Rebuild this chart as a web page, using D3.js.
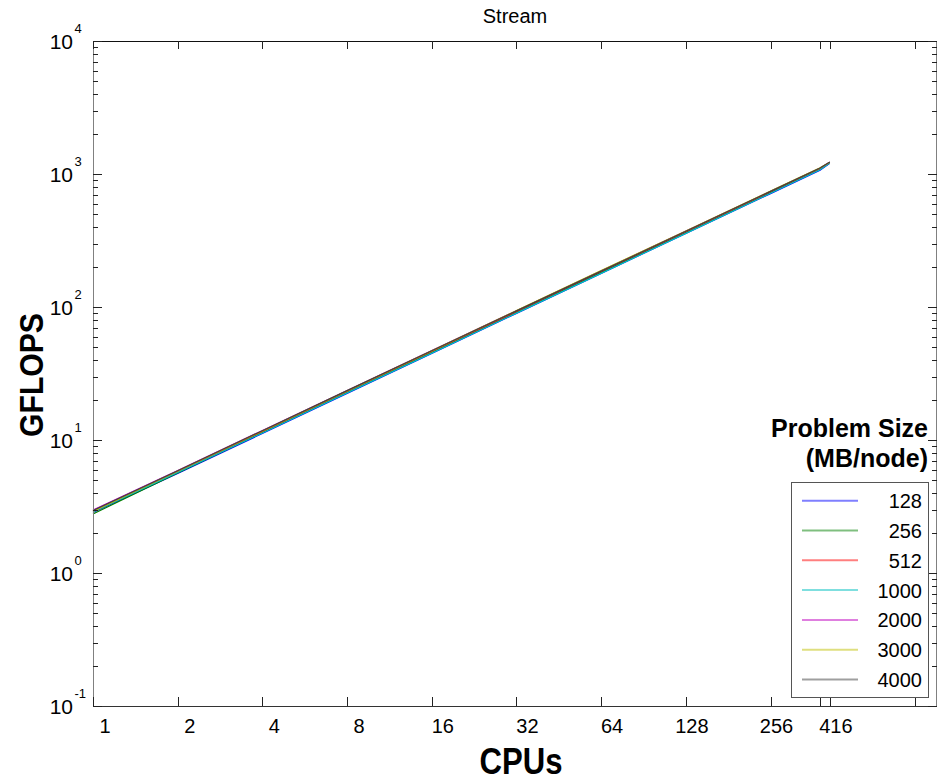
<!DOCTYPE html>
<html>
<head>
<meta charset="utf-8">
<script src="https://cdn.jsdelivr.net/npm/d3@7"></script>
<style>
  body { margin: 0; background: #fff; }
  text { font-family: Arial, "Liberation Sans", sans-serif; }
</style>
</head>
<body>
<div id="chart"></div>
<script>
// Donnees
const cpus = [1, 2, 4, 8, 16, 32, 64, 128, 256, 384, 416];
const tailles = ["128", "256", "512", "1000", "2000", "3000", "4000"];
const couleurs = ["#0000ff", "#008000", "#ff0000", "#00bfbf", "#bf00bf", "#bfbf00", "#404040"];
const gflops_128  = [2.85, 5.6, 11.2, 22.4, 44.8, 89.5, 179, 357, 712, 1068, 1205];
const gflops_256  = [2.78, 5.65, 11.4, 22.8, 45.6, 91.2, 182, 364, 726, 1090, 1215];
const gflops_512  = [2.92, 5.8, 11.6, 23.2, 46.3, 92.5, 185, 368, 735, 1100, 1222];
const gflops_1000 = [2.88, 5.7, 11.3, 22.6, 45.0, 90.0, 179, 358, 716, 1075, 1212];
const gflops_2000 = [2.98, 5.9, 11.8, 23.5, 47.0, 93.8, 187, 372, 742, 1110, 1228];
const gflops_3000 = [2.9, 5.85, 11.7, 23.4, 46.8, 94.0, 188, 373, 744, 1112, 1226];
const gflops_4000 = [2.95, 5.88, 11.75, 23.5, 46.9, 93.5, 186, 371, 740, 1108, 1232];
const series = [gflops_128, gflops_256, gflops_512, gflops_1000, gflops_2000, gflops_3000, gflops_4000];

const ticks_x = [1, 2, 4, 8, 16, 32, 64, 128, 256, 384, 416, 832];
const labels_x = {1: "1", 2: "2", 4: "4", 8: "8", 16: "16", 32: "32", 64: "64", 128: "128", 256: "256", 416: "416"};
const exposants_y = [-1, 0, 1, 2, 3, 4];

const largeur = 938, hauteur = 782;
const [gauche, droite, haut, bas] = [93, 937, 41, 706];

const svg = d3.select("#chart").append("svg")
  .attr("width", largeur)
  .attr("height", hauteur);

const x = d3.scaleLog().base(2).domain([1, 1000]).range([gauche, droite]);
const y = d3.scaleLog().domain([0.1, 1e4]).range([bas, haut]);

// Courbes
const ligne = d3.line().x((d, i) => x(cpus[i])).y(d => y(d));
series.forEach((s, k) => {
  svg.append("path")
    .attr("d", ligne(s))
    .attr("fill", "none")
    .attr("stroke", couleurs[k])
    .attr("stroke-width", 1.2);
});

// Cadre
svg.append("line").attr("x1", gauche).attr("x2", droite).attr("y1", haut + 0.5).attr("y2", haut + 0.5).attr("stroke", "#111");
svg.append("line").attr("x1", gauche).attr("x2", droite).attr("y1", bas + 0.5).attr("y2", bas + 0.5).attr("stroke", "#333");
svg.append("line").attr("x1", gauche + 0.5).attr("x2", gauche + 0.5).attr("y1", haut).attr("y2", bas).attr("stroke", "#808080");
svg.append("line").attr("x1", droite - 0.5).attr("x2", droite - 0.5).attr("y1", haut).attr("y2", bas).attr("stroke", "#808080");

// Graduations x (haut et bas)
ticks_x.forEach(t => {
  let px = Math.round(x(t)) + 0.5;
  svg.append("line").attr("x1", px).attr("x2", px).attr("y1", bas).attr("y2", bas - 9).attr("stroke", "#222");
  svg.append("line").attr("x1", px).attr("x2", px).attr("y1", haut).attr("y2", haut + 8).attr("stroke", "#222");
  if (labels_x[t]) {
    let n = labels_x[t].length;
    let decalage = n == 1 ? 12 : (n == 2 ? 11 : 6);
    svg.append("text")
      .attr("x", x(t) + decalage)
      .attr("y", 733)
      .attr("text-anchor", "middle")
      .attr("font-size", 20)
      .text(labels_x[t]);
  }
});

// Graduations y (gauche et droite, majeures et mineures)
exposants_y.forEach(e => {
  let base = Math.pow(10, e);
  let py = Math.round(y(base)) + 0.5;
  svg.append("line").attr("x1", gauche).attr("x2", gauche + 9).attr("y1", py).attr("y2", py).attr("stroke", "#222");
  svg.append("line").attr("x1", droite).attr("x2", droite - 9).attr("y1", py).attr("y2", py).attr("stroke", "#222");
  svg.append("text")
    .attr("x", 73).attr("y", y(base) + 7.5)
    .attr("text-anchor", "end")
    .attr("font-size", 21)
    .text("10");
  svg.append("text")
    .attr("x", 74.5).attr("y", y(base) - 8)
    .attr("font-size", 13)
    .text(e);
  if (e < 4) {
    for (let m = 2; m <= 9; m++) {
      let pm = Math.round(y(base * m)) + 0.5;
      svg.append("line").attr("x1", gauche).attr("x2", gauche + 5).attr("y1", pm).attr("y2", pm).attr("stroke", "#222");
      svg.append("line").attr("x1", droite).attr("x2", droite - 5).attr("y1", pm).attr("y2", pm).attr("stroke", "#222");
    }
  }
});

// Titres
svg.append("text")
  .attr("x", (gauche + droite) / 2).attr("y", 22.5)
  .attr("text-anchor", "middle")
  .attr("font-size", 20)
  .text("Stream");

svg.append("text")
  .attr("x", 521).attr("y", 774)
  .attr("text-anchor", "middle")
  .attr("font-size", 36)
  .attr("font-weight", "bold")
  .attr("textLength", 83)
  .attr("lengthAdjust", "spacingAndGlyphs")
  .text("CPUs");

svg.append("text")
  .attr("transform", "translate(43,375) rotate(-90)")
  .attr("text-anchor", "middle")
  .attr("font-size", 34)
  .attr("font-weight", "bold")
  .attr("textLength", 124)
  .attr("lengthAdjust", "spacingAndGlyphs")
  .text("GFLOPS");

// Legende
svg.append("text")
  .attr("x", 928).attr("y", 437)
  .attr("text-anchor", "end")
  .attr("font-size", 25)
  .attr("font-weight", "bold")
  .text("Problem Size");
svg.append("text")
  .attr("x", 928).attr("y", 467)
  .attr("text-anchor", "end")
  .attr("font-size", 25)
  .attr("font-weight", "bold")
  .text("(MB/node)");

svg.append("rect")
  .attr("x", 791.5).attr("y", 482.5)
  .attr("width", 137).attr("height", 215)
  .attr("fill", "white")
  .attr("stroke", "#555");

tailles.forEach((t, i) => {
  let ly = 500.7 + i * 29.8;
  svg.append("line")
    .attr("x1", 802).attr("x2", 858)
    .attr("y1", ly).attr("y2", ly)
    .attr("stroke", couleurs[i])
    .attr("stroke-opacity", 0.5)
    .attr("stroke-width", 2);
  svg.append("text")
    .attr("x", 922).attr("y", ly + 7.5)
    .attr("text-anchor", "end")
    .attr("font-size", 20)
    .text(t);
});
</script>
</body>
</html>
